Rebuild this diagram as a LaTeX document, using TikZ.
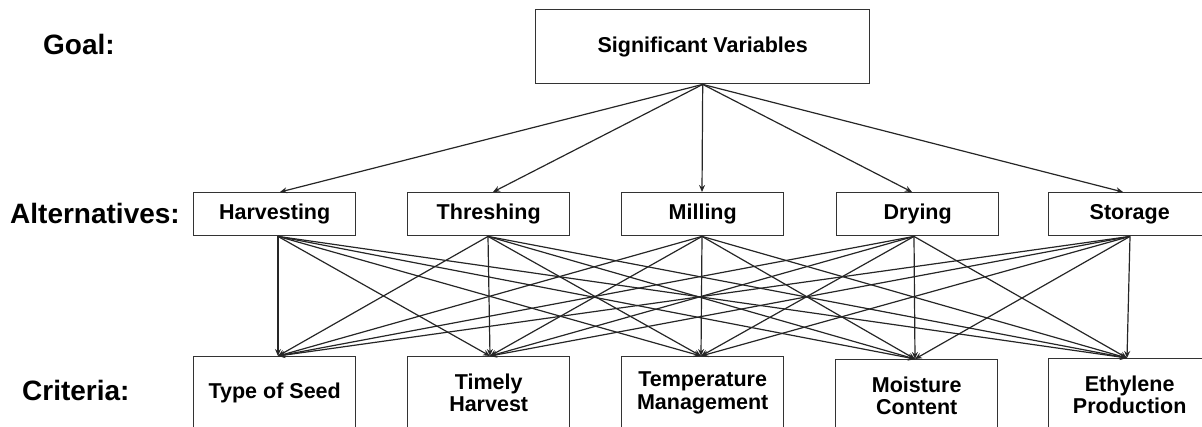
\documentclass[tikz,border=0pt]{standalone}
\usepackage{fontspec}
\setmainfont{Liberation Sans}
\usetikzlibrary{calc,arrows.meta}
\begin{document}
\begin{tikzpicture}[x=1pt,y=-1pt,
  box/.style={draw=black!80, line width=1.4pt, inner sep=0pt, anchor=north west,
    font=\bfseries\fontsize{21.5}{22.5}\selectfont, align=center},
  alt/.style={box, minimum width=162pt, minimum height=43pt},
  crit/.style={box, minimum width=162pt, minimum height=72pt},
  lab/.style={font=\bfseries\fontsize{28}{30}\selectfont, anchor=west, inner sep=0pt},
  conn/.style={line width=1.2pt, draw=black!85, -{Stealth[length=7pt,width=6pt]}}]
\useasboundingbox (0,0) rectangle (1202,426);
\clip (0,0) rectangle (1202,426);
% labels
\node[lab] (lgoal) at (43,44) {Goal:};
\node[lab] (lalt) at (10,213) {Alternatives:};
\node[lab] (lcrit) at (22,390) {Criteria:};
% goal
\node[box, minimum width=334pt, minimum height=74pt] (goal) at (535,9) {Significant Variables};
% alternatives
\node[alt] (harv) at (193,192) {Harvesting};
\node[alt] (thr) at (407,192) {Threshing};
\node[alt] (mill) at (621,192) {Milling};
\node[alt] (dry) at (836,192) {Drying};
\node[alt] (stor) at (1048,192) {Storage};
% criteria
\node[crit] (seed) at (193,356) {Type of Seed};
\node[crit] (timely) at (407,356) {Timely\\Harvest};
\node[crit] (temp) at (621,356) {Temperature\\Management};
\node[crit] (moist) at (835,359) {Moisture\\Content};
\node[crit] (eth) at (1048,358) {Ethylene\\Production};
% goal -> alternatives
\foreach \n/\dx in {harv/87, thr/86, mill/81, dry/76, stor/75}
  \draw[conn] (goal.south) -- ($(\n.north west)+(\dx,0)$);
% alternatives -> criteria
\foreach \a/\ax in {harv/85, thr/81, mill/81, dry/78, stor/82}
  \foreach \c/\cx in {seed/85, timely/83, temp/80, moist/80, eth/79}
    \draw[conn] ($(\a.south west)+(\ax,0)$) -- ($(\c.north west)+(\cx,0)$);
\end{tikzpicture}
\end{document}
